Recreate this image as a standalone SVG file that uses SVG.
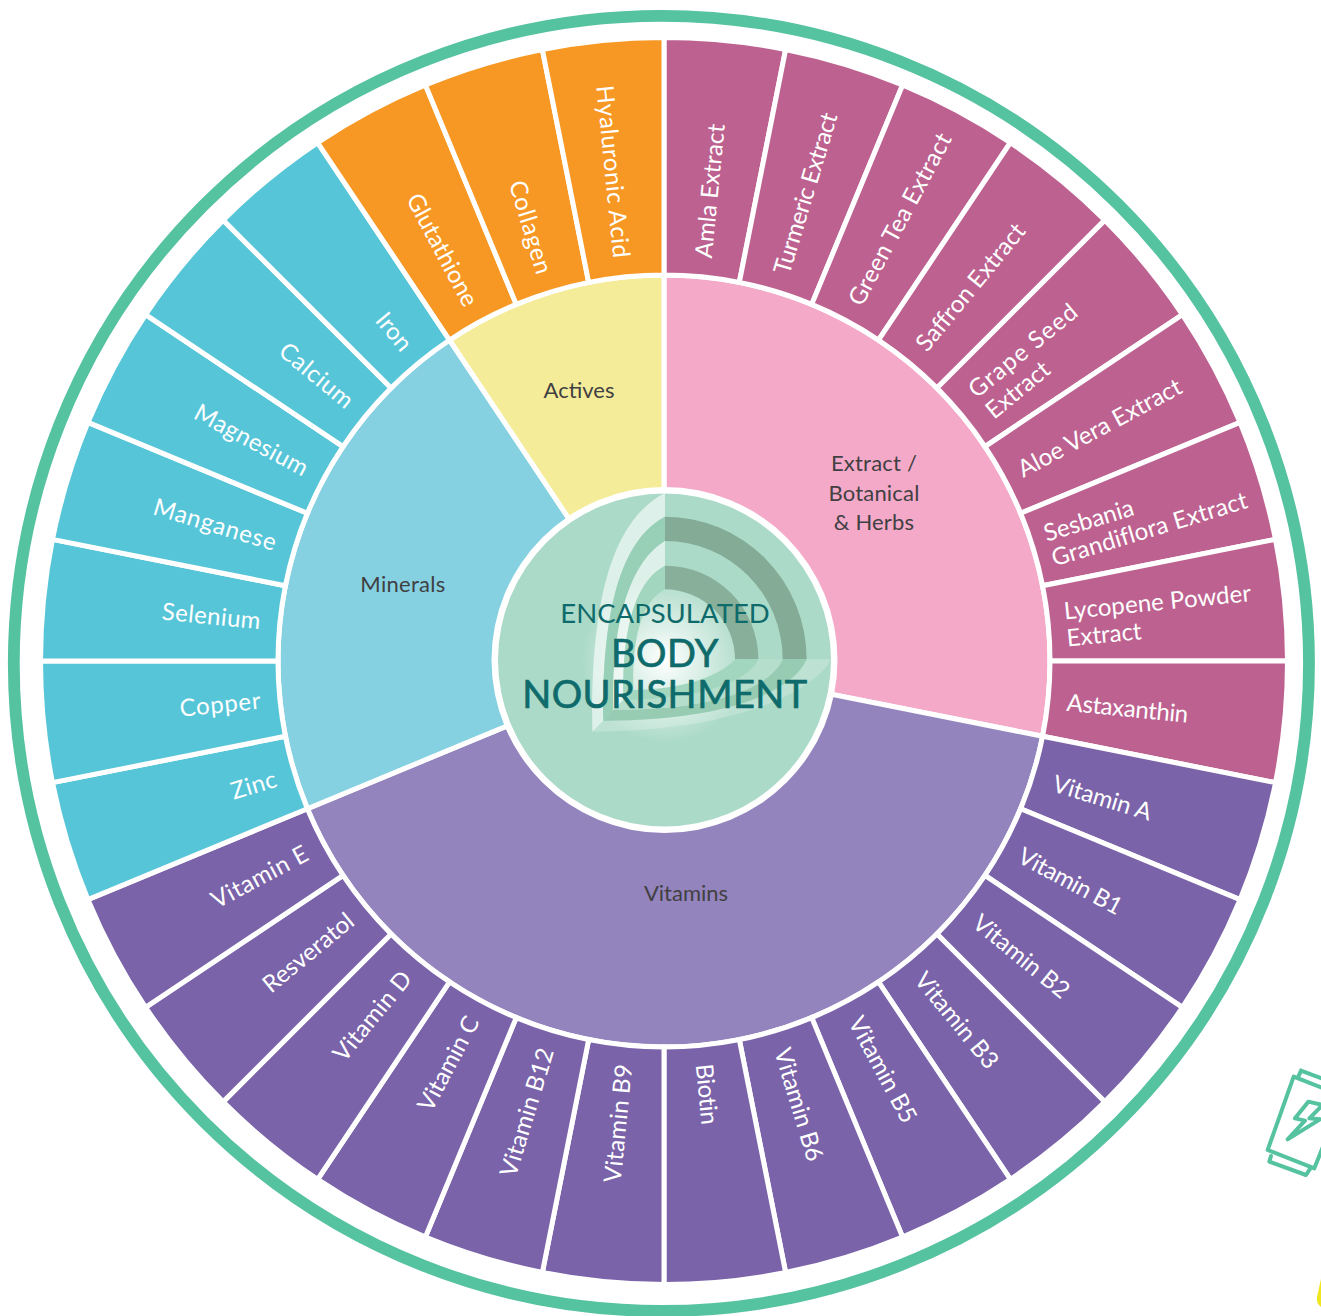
<svg xmlns="http://www.w3.org/2000/svg" width="1321" height="1316" viewBox="0 0 1321 1316">
<style>
text{font-family:"Lato","Liberation Sans",sans-serif;font-weight:400}
.w{stroke:#fff;stroke-width:5}
.e{fill:#BD6290}.v{fill:#7A63A9}.m{fill:#57C5D8}.a{fill:#F79824}
.l{fill:#fff;font-size:24px}
.r{text-anchor:end}
.c{fill:#414042;font-size:22px;text-anchor:middle}
.t{fill:#0F6B6B;text-anchor:middle}
.h{font-size:38px;stroke:#0F6B6B;stroke-width:.7;letter-spacing:.5px}
.i{fill:none;stroke:#55C2A0;stroke-width:12;stroke-linejoin:round;stroke-linecap:round}
</style>
<defs>
<path id="w" d="M0,-386L0,-623.5A623.5 623.5 0 0 1 121.64,-611.5L75.3,-378.6A386 386 0 0 0 0,-386Z"/>
<radialGradient id="g" cx="664.5" cy="660" r="166.5" gradientUnits="userSpaceOnUse">
<stop offset="0" stop-color="#fff"/><stop offset=".5" stop-color="#ABDAC8"/><stop offset="1" stop-color="#ABDAC8"/>
</radialGradient>
</defs>
<circle id="ring" cx="661.4" cy="663.4" r="647.6" fill="none" stroke="#55C2A0" stroke-width="11.8"/>
<g transform="translate(664 661)">
<g id="cat-extract"><path class="w" fill="#F4A9C8" d="M0,0L0,-386A386 386 0 0 1 378.6,75.3Z"/><text class="c" x="210" y="-190" letter-spacing=".2">Extract /</text><text class="c" x="210" y="-160" letter-spacing=".2">Botanical</text><text class="c" x="210" y="-131" letter-spacing=".2">&amp; Herbs</text></g>
<g id="cat-vitamins"><path class="w" fill="#9484BD" d="M0,0L378.6,75.3A386 386 0 0 1 -356.6,147.7Z"/><text class="c" x="22" y="240">Vitamins</text></g>
<g id="cat-minerals"><path class="w" fill="#85D1E2" d="M0,0L-356.6,147.7A386 386 0 0 1 -214.5,-321Z"/><text class="c" x="-261" y="-69" letter-spacing=".3">Minerals</text></g>
<g id="cat-actives"><path class="w" fill="#F5EC9A" d="M0,0L-214.5,-321A386 386 0 0 1 0,-386Z"/><text class="c" x="-85" y="-263">Actives</text></g>

<g id="n-amla"><use href="#w" class="w e" transform="rotate(0)"/><text class="l" transform="rotate(-84.375)" x="405" y="8">Amla Extract</text></g>
<g id="n-turmeric"><use href="#w" class="w e" transform="rotate(11.25)"/><text class="l" transform="rotate(-73.125)" x="405" y="8" letter-spacing="-.4">Turmeric Extract</text></g>
<g id="n-greentea"><use href="#w" class="w e" transform="rotate(22.5)"/><text class="l" transform="rotate(-61.875)" x="405" y="8" letter-spacing=".3">Green Tea Extract</text></g>
<g id="n-saffron"><use href="#w" class="w e" transform="rotate(33.75)"/><text class="l" transform="rotate(-50.625)" x="405" y="8">Saffron Extract</text></g>
<g id="n-grape"><use href="#w" class="w e" transform="rotate(45)"/><text class="l" transform="rotate(-39.375)" x="408" y="-4" letter-spacing="1.2">Grape Seed</text><text class="l" transform="rotate(-39.375)" x="408" y="23">Extract</text></g>
<g id="n-aloe"><use href="#w" class="w e" transform="rotate(56.25)"/><text class="l" transform="rotate(-28.125)" x="403" y="8">Aloe Vera Extract</text></g>
<g id="n-sesbania"><use href="#w" class="w e" transform="rotate(67.5)"/><text class="l" transform="rotate(-16.875)" x="401" y="-3">Sesbania</text><text class="l" transform="rotate(-16.875)" x="401" y="23" letter-spacing=".2">Grandiflora Extract</text></g>
<g id="n-lycopene"><use href="#w" class="w e" transform="rotate(78.75)"/><text class="l" transform="rotate(-5.625)" x="403" y="-2" letter-spacing=".13">Lycopene Powder</text><text class="l" transform="rotate(-5.625)" x="403" y="25">Extract</text></g>
<g id="n-astaxanthin"><use href="#w" class="w e" transform="rotate(90)"/><text class="l" transform="rotate(5.625)" x="405" y="10" letter-spacing="-.35">Astaxanthin</text></g>

<g id="n-va"><use href="#w" class="w v" transform="rotate(101.25)"/><text class="l" transform="rotate(16.875)" x="408" y="12" letter-spacing="-.1">Vitamin A</text></g>
<g id="n-vb1"><use href="#w" class="w v" transform="rotate(112.5)"/><text class="l" transform="rotate(28.125)" x="405" y="11" letter-spacing="-.3">Vitamin B1</text></g>
<g id="n-vb2"><use href="#w" class="w v" transform="rotate(123.75)"/><text class="l" transform="rotate(39.375)" x="405" y="10">Vitamin B2</text></g>
<g id="n-vb3"><use href="#w" class="w v" transform="rotate(135)"/><text class="l" transform="rotate(50.625)" x="405" y="10">Vitamin B3</text></g>
<g id="n-vb5"><use href="#w" class="w v" transform="rotate(146.25)"/><text class="l" transform="rotate(61.875)" x="405" y="8">Vitamin B5</text></g>
<g id="n-vb6"><use href="#w" class="w v" transform="rotate(157.5)"/><text class="l" transform="rotate(73.125)" x="405" y="8">Vitamin B6</text></g>
<g id="n-biotin"><use href="#w" class="w v" transform="rotate(168.75)"/><text class="l" transform="rotate(84.375)" x="405" y="8" letter-spacing="-.3">Biotin</text></g>
<g id="n-vb9"><use href="#w" class="w v" transform="rotate(180)"/><text class="l r" transform="rotate(-84.375)" x="-405" y="8" letter-spacing=".2">Vitamin B9</text></g>
<g id="n-vb12"><use href="#w" class="w v" transform="rotate(191.25)"/><text class="l r" transform="rotate(-73.125)" x="-405" y="8" letter-spacing=".2">Vitamin B12</text></g>
<g id="n-vc"><use href="#w" class="w v" transform="rotate(202.5)"/><text class="l r" transform="rotate(-61.875)" x="-405" y="8">Vitamin C</text></g>
<g id="n-vd"><use href="#w" class="w v" transform="rotate(213.75)"/><text class="l r" transform="rotate(-50.625)" x="-405" y="8" letter-spacing=".33">Vitamin D</text></g>
<g id="n-resveratol"><use href="#w" class="w v" transform="rotate(225)"/><text class="l r" transform="rotate(-39.375)" x="-405" y="8">Resveratol</text></g>
<g id="n-ve"><use href="#w" class="w v" transform="rotate(236.25)"/><text class="l r" transform="rotate(-28.125)" x="-405" y="8" letter-spacing=".55">Vitamin E</text></g>

<g id="n-zinc"><use href="#w" class="w m" transform="rotate(247.5)"/><text class="l r" transform="rotate(-16.875)" x="-405" y="8" letter-spacing=".5">Zinc</text></g>
<g id="n-copper"><use href="#w" class="w m" transform="rotate(258.75)"/><text class="l r" transform="rotate(-5.625)" x="-405" y="8" letter-spacing=".65">Copper</text></g>
<g id="n-selenium"><use href="#w" class="w m" transform="rotate(270)"/><text class="l r" transform="rotate(5.625)" x="-405" y="8" letter-spacing=".4">Selenium</text></g>
<g id="n-manganese"><use href="#w" class="w m" transform="rotate(281.25)"/><text class="l r" transform="rotate(16.875)" x="-405" y="8" letter-spacing=".8">Manganese</text></g>
<g id="n-magnesium"><use href="#w" class="w m" transform="rotate(292.5)"/><text class="l r" transform="rotate(28.125)" x="-405" y="8" letter-spacing=".45">Magnesium</text></g>
<g id="n-calcium"><use href="#w" class="w m" transform="rotate(303.75)"/><text class="l r" transform="rotate(39.375)" x="-405" y="8" letter-spacing=".7">Calcium</text></g>
<g id="n-iron"><use href="#w" class="w m" transform="rotate(315)"/><text class="l r" transform="rotate(50.625)" x="-405" y="8">Iron</text></g>

<g id="n-glutathione"><use href="#w" class="w a" transform="rotate(326.25)"/><text class="l r" transform="rotate(61.875)" x="-405" y="10">Glutathione</text></g>
<g id="n-collagen"><use href="#w" class="w a" transform="rotate(337.5)"/><text class="l r" transform="rotate(73.125)" x="-405" y="10" letter-spacing=".75">Collagen</text></g>
<g id="n-hyaluronic"><use href="#w" class="w a" transform="rotate(348.75)"/><text class="l r" transform="rotate(84.375)" x="-405" y="11" letter-spacing=".53">Hyaluronic Acid</text></g>
</g>

<g id="center">
<circle cx="664.5" cy="660" r="173" fill="#fff"/>
<circle cx="664.5" cy="660" r="166.5" fill="url(#g)"/>
<g transform="translate(480 480) scale(.33333)">
<path fill="#fff" fill-opacity=".6" d="M555,38C420,110 330,300 337,755L370,722C365,350 440,170 555,110Z"/>
<path fill="#97CFB7" d="M555,110C440,170 365,350 370,722L400,690C395,400 460,240 555,183Z"/>
<path fill="#fff" fill-opacity=".6" d="M555,183C460,240 395,400 400,690L430,660C425,420 475,300 555,257Z"/>
<path fill="#A3D6BE" d="M555,257C475,300 425,420 430,660L460,630C455,450 495,360 555,328Z"/>
<path fill="#83AB95" d="M555,110A425 428 0 0 1 980,538L908,538A353 355 0 0 0 555,183Z"/>
<path fill="#87AF99" d="M555,257A280 281 0 0 1 835,538L765,538A210 210 0 0 0 555,328Z"/>
<path fill="#fff" fill-opacity=".22" d="M1053,538C1000,640 750,755 337,755L370,722C750,722 940,630 980,538Z"/>
<path fill="#97CCB3" d="M980,538C940,630 750,722 370,722L400,690C720,690 870,620 908,538Z"/>
<path fill="#B5DECC" d="M908,538C870,620 720,690 400,690L430,660C650,660 800,610 835,538Z"/>
<path fill="#A3D6BE" d="M835,538C800,610 650,660 430,660L460,630C600,630 720,590 765,538Z"/>
</g>
<text class="t" x="665" y="623" font-size="27.5">ENCAPSULATED</text>
<text class="t h" x="665" y="667">BODY</text>
<text class="t h" x="665" y="708">NOURISHMENT</text>
</g>

<g id="can-icon" transform="translate(1221 1050) scale(.33333)">
<path class="i" d="M315,118L218,80L140,300L280,355L310,280"/>
<path class="i" d="M240,62L232,80M240,62L310,88"/>
<path class="i" d="M150,318L145,335L255,375L268,355"/>
<path class="i" d="M262,155L222,205L252,212L200,268L297,208L265,205L305,165Z"/>
</g>
<path id="yellow-mark" fill="#F0E61E" d="M1321,1279L1317,1297Q1316,1303 1321,1307Z"/>
</svg>
